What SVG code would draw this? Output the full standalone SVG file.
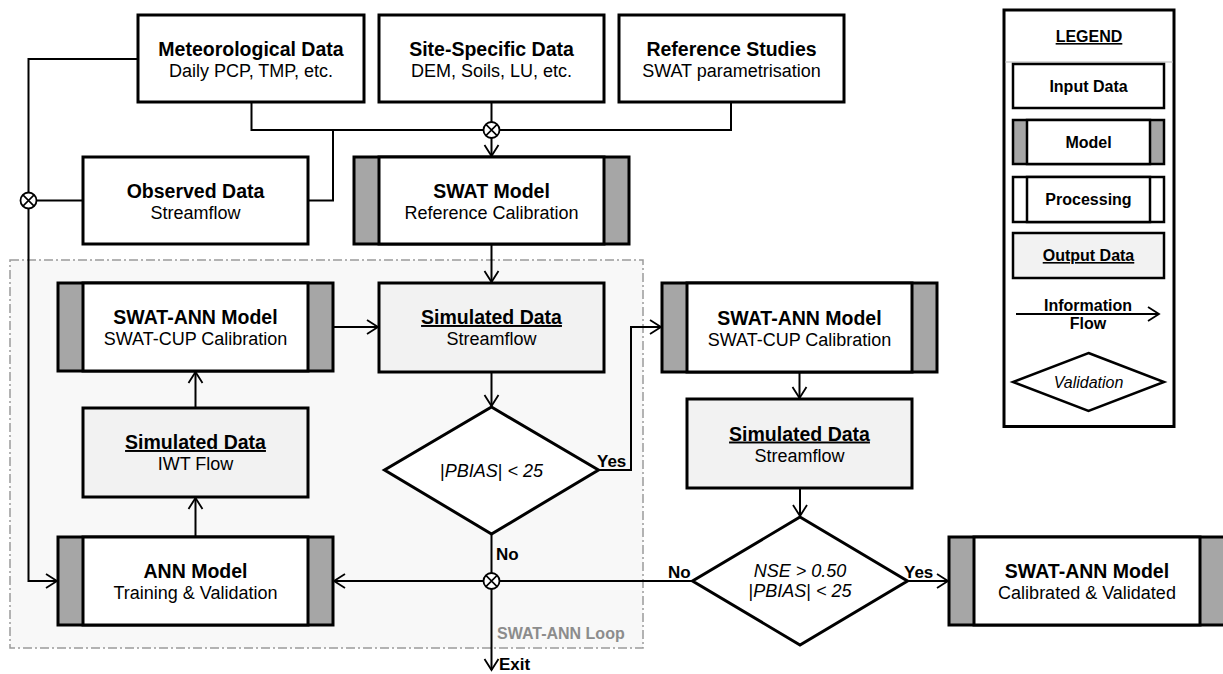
<svg xmlns="http://www.w3.org/2000/svg" xmlns:xlink="http://www.w3.org/1999/xlink" width="1223" height="674" viewBox="0 0 1223 674">
<style>
text{font-family:"Liberation Sans",Arial,Helvetica,sans-serif;fill:#000}
.t{font-weight:bold;font-size:19.5px;text-anchor:middle}
.s{font-size:18px;text-anchor:middle}
.u{text-decoration:underline}
.lb{font-weight:bold;font-size:17px}
.lg{font-weight:bold;font-size:16px;text-anchor:middle}
.box{fill:#fff;stroke:#000;stroke-width:3}
.out{fill:#f2f2f2;stroke:#000;stroke-width:3}
.strip{fill:#a6a6a6;stroke:#000;stroke-width:3}
.dia{fill:#fff;stroke:#000;stroke-width:3}
.ln{fill:none;stroke:#000;stroke-width:2}
.ar{fill:none;stroke:#000;stroke-width:2;marker-end:url(#arr)}
.jc{fill:#fff;stroke:#000;stroke-width:1.8}
.jx{fill:none;stroke:#000;stroke-width:1.6}
</style>
<defs>
<marker id="arr" markerUnits="userSpaceOnUse" markerWidth="16" markerHeight="16" viewBox="-13 -8 16 16" refX="0" refY="0" orient="auto" overflow="visible">
<path d="M-11,-7 L0,0 L-11,7" fill="none" stroke="#000" stroke-width="1.8"/>
</marker>
<g id="jn"><circle class="jc" r="8"/><path class="jx" d="M-5.6,-5.6 L5.6,5.6 M-5.6,5.6 L5.6,-5.6"/></g>
</defs>
<rect width="1223" height="674" fill="#fff"/>

<g id="loop">
<rect x="10" y="260" width="633" height="388" fill="#f8f8f8" stroke="#9a9a9a" stroke-width="1.5" stroke-dasharray="9 3 2 3"/>
<text x="497" y="639" style="font-weight:bold;font-size:16px;fill:#8c8c8c">SWAT-ANN Loop</text>
</g>

<g id="connectors">
<polyline class="ln" points="251.5,102 251.5,130 731,130 731,102"/>
<polyline class="ln" points="308,200.5 333,200.5 333,130"/>
<line class="ln" x1="491.5" y1="102" x2="491.5" y2="122"/>
<line class="ar" x1="491.5" y1="138" x2="491.5" y2="156"/>
<polyline class="ln" points="138,59 28.5,59 28.5,192.5"/>
<polyline class="ar" points="28.5,208.5 28.5,581 57,581"/>
<line class="ln" x1="83" y1="200.5" x2="36.5" y2="200.5"/>
<line class="ar" x1="491.5" y1="244" x2="491.5" y2="282"/>
<line class="ar" x1="333" y1="327" x2="378" y2="327"/>
<line class="ar" x1="491.5" y1="372" x2="491.5" y2="406"/>
<polyline class="ar" points="598.5,470 631,470 631,327 661,327"/>
<line class="ar" x1="799.5" y1="372" x2="799.5" y2="398"/>
<line class="ar" x1="800" y1="488" x2="800" y2="516"/>
<line class="ar" x1="908" y1="581" x2="948" y2="581"/>
<line class="ln" x1="693" y1="581" x2="499.5" y2="581"/>
<line class="ln" x1="491.5" y1="534" x2="491.5" y2="573"/>
<line class="ar" x1="483.5" y1="581" x2="334" y2="581"/>
<line class="ar" x1="491.5" y1="589" x2="491.5" y2="670"/>
<line class="ar" x1="195.5" y1="537" x2="195.5" y2="498"/>
<line class="ar" x1="195.5" y1="408" x2="195.5" y2="372"/>
<use xlink:href="#jn" x="491.5" y="130"/>
<use xlink:href="#jn" x="28.5" y="200.5"/>
<use xlink:href="#jn" x="491.5" y="581"/>
</g>

<g id="met">
<rect class="box" x="138" y="15" width="226" height="87"/>
<text class="t" x="251" y="56">Meteorological Data</text>
<text class="s" x="251" y="77">Daily PCP, TMP, etc.</text>
</g>
<g id="site">
<rect class="box" x="379" y="15" width="225" height="87"/>
<text class="t" x="491.5" y="56">Site-Specific Data</text>
<text class="s" x="491.5" y="77">DEM, Soils, LU, etc.</text>
</g>
<g id="ref">
<rect class="box" x="619" y="15" width="225" height="87"/>
<text class="t" x="731.5" y="56">Reference Studies</text>
<text class="s" x="731.5" y="77">SWAT parametrisation</text>
</g>
<g id="obs">
<rect class="box" x="83" y="157" width="225" height="87"/>
<text class="t" x="195.5" y="198">Observed Data</text>
<text class="s" x="195.5" y="219">Streamflow</text>
</g>
<g id="swat">
<rect class="strip" x="354" y="157" width="275" height="87"/>
<rect class="box" x="379" y="157" width="225" height="87"/>
<text class="t" x="491.5" y="198">SWAT Model</text>
<text class="s" x="491.5" y="219">Reference Calibration</text>
</g>
<g id="swatann1">
<rect class="strip" x="58" y="283" width="275" height="88"/>
<rect class="box" x="83" y="283" width="225" height="88"/>
<text class="t" x="195.5" y="324">SWAT-ANN Model</text>
<text class="s" x="195.5" y="345">SWAT-CUP Calibration</text>
</g>
<g id="sim1">
<rect class="out" x="379" y="283" width="225" height="89"/>
<text class="t u" x="491.5" y="324">Simulated Data</text>
<text class="s" x="491.5" y="345">Streamflow</text>
</g>
<g id="simiwt">
<rect class="out" x="83" y="408" width="225" height="89"/>
<text class="t u" x="195.5" y="449">Simulated Data</text>
<text class="s" x="195.5" y="470">IWT Flow</text>
</g>
<g id="ann">
<rect class="strip" x="58" y="537" width="275" height="88"/>
<rect class="box" x="83" y="537" width="225" height="88"/>
<text class="t" x="195.5" y="578">ANN Model</text>
<text class="s" x="195.5" y="599">Training &amp; Validation</text>
</g>
<g id="pbias">
<polygon class="dia" points="491.5,407 598.5,470 491.5,534 384.5,470"/>
<text class="s" x="491.5" y="477"><tspan>|</tspan><tspan font-style="italic">PBIAS</tspan><tspan>|</tspan><tspan font-style="italic"> &lt; 25</tspan></text>
<text class="lb" x="597" y="467">Yes</text>
<text class="lb" x="496" y="560">No</text>
<text class="lb" x="499" y="670">Exit</text>
</g>
<g id="swatann2">
<rect class="strip" x="662" y="283" width="275" height="89"/>
<rect class="box" x="687" y="283" width="225" height="89"/>
<text class="t" x="799.5" y="324.5">SWAT-ANN Model</text>
<text class="s" x="799.5" y="345.5">SWAT-CUP Calibration</text>
</g>
<g id="sim2">
<rect class="out" x="687" y="399" width="225" height="89"/>
<text class="t u" x="799.5" y="440.5">Simulated Data</text>
<text class="s" x="799.5" y="461.5">Streamflow</text>
</g>
<g id="nse">
<polygon class="dia" points="800,517 907.5,581 800,645 692.5,581"/>
<text class="s" x="800" y="577" font-style="italic">NSE &gt; 0.50</text>
<text class="s" x="800" y="597"><tspan>|</tspan><tspan font-style="italic">PBIAS</tspan><tspan>|</tspan><tspan font-style="italic"> &lt; 25</tspan></text>
<text class="lb" x="668" y="578">No</text>
<text class="lb" x="904" y="578">Yes</text>
</g>
<g id="final">
<rect class="strip" x="949" y="537" width="276" height="88"/>
<rect class="box" x="974" y="537" width="226" height="88"/>
<text class="t" x="1087" y="578">SWAT-ANN Model</text>
<text class="s" x="1087" y="599">Calibrated &amp; Validated</text>
</g>

<g id="legend">
<rect x="1004" y="10" width="170" height="416.5" fill="#fff" stroke="#000" stroke-width="3"/>
<text class="lg u" x="1089" y="42">LEGEND</text>
<line x1="1005.5" y1="62" x2="1172.5" y2="62" stroke="#cccccc" stroke-width="1.5"/>
<rect x="1013" y="64" width="151" height="44" fill="#fff" stroke="#000" stroke-width="2.5"/>
<text class="lg" x="1088.5" y="92">Input Data</text>
<rect x="1013" y="120" width="151" height="44" fill="#a6a6a6" stroke="#000" stroke-width="2.5"/>
<rect x="1027" y="120" width="123" height="44" fill="#fff" stroke="#000" stroke-width="2.5"/>
<text class="lg" x="1088.5" y="148">Model</text>
<rect x="1013" y="177" width="151" height="45" fill="#fff" stroke="#000" stroke-width="2.5"/>
<rect x="1027" y="177" width="123" height="45" fill="#fff" stroke="#000" stroke-width="2.5"/>
<text class="lg" x="1088.5" y="205">Processing</text>
<rect x="1013" y="233" width="151" height="45" fill="#f2f2f2" stroke="#000" stroke-width="2.5"/>
<text class="lg u" x="1088.5" y="261">Output Data</text>
<line class="ar" x1="1016" y1="314" x2="1159" y2="314"/>
<text class="lg" x="1088" y="311">Information</text>
<text class="lg" x="1088" y="329">Flow</text>
<polygon points="1088.5,353 1164,382 1088.5,411 1013,382" fill="#fff" stroke="#000" stroke-width="2.5"/>
<text x="1088.5" y="388" style="font-size:16px;font-style:italic;text-anchor:middle">Validation</text>
</g>
</svg>
